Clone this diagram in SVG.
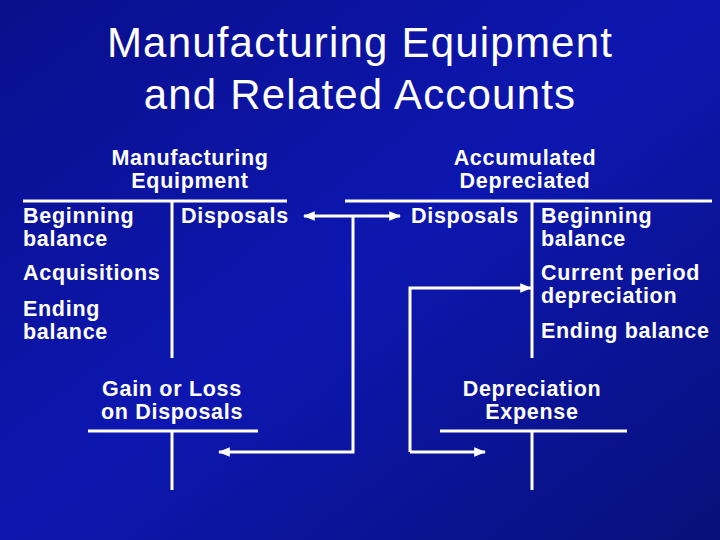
<svg xmlns="http://www.w3.org/2000/svg" width="720" height="540" viewBox="0 0 720 540">
<defs>
<linearGradient id="bg" x1="0" y1="0" x2="1" y2="1">
<stop offset="0" stop-color="#0a0f8c"/><stop offset="0.5" stop-color="#0d17b0"/><stop offset="1" stop-color="#08107a"/>
</linearGradient>
<marker id="ah" viewBox="0 0 10 10" refX="9" refY="5" markerWidth="4" markerHeight="4" orient="auto-start-reverse" markerUnits="strokeWidth"><path d="M0,1 L10,5 L0,9 Z" fill="#fff"/></marker>
<style>
.t{font-family:"Liberation Sans",Arial,sans-serif;font-weight:bold;font-size:21.5px;letter-spacing:0.7px;fill:#fff}
.h{font-family:"Liberation Sans",Arial,sans-serif;font-size:42px;letter-spacing:1.2px;fill:#fff;text-anchor:middle}
.l{stroke:#fff;stroke-width:3;fill:none}
</style>
</defs>
<rect width="720" height="540" fill="url(#bg)"/>
<text class="h" x="360" y="57">Manufacturing Equipment</text>
<text class="h" x="360" y="109">and Related Accounts</text>
<g id="mfg-equipment">
<text class="t" x="190" y="165" text-anchor="middle">Manufacturing</text>
<text class="t" x="190" y="188" text-anchor="middle">Equipment</text>
<path class="l" d="M23,201 H287 M172,201 V358"/>
<text class="t" x="23" y="223">Beginning</text>
<text class="t" x="23" y="246">balance</text>
<text class="t" x="23" y="280">Acquisitions</text>
<text class="t" x="23" y="316">Ending</text>
<text class="t" x="23" y="339">balance</text>
<text class="t" x="181" y="223">Disposals</text>
</g>
<g id="accum-dep">
<text class="t" x="525" y="165" text-anchor="middle">Accumulated</text>
<text class="t" x="525" y="188" text-anchor="middle">Depreciated</text>
<path class="l" d="M345,201 H712 M532,201 V358"/>
<text class="t" x="411" y="223">Disposals</text>
<text class="t" x="541" y="223">Beginning</text>
<text class="t" x="541" y="246">balance</text>
<text class="t" x="541" y="280">Current period</text>
<text class="t" x="541" y="303">depreciation</text>
<text class="t" x="541" y="338">Ending balance</text>
</g>
<g id="gain-loss">
<text class="t" x="172" y="396" text-anchor="middle">Gain or Loss</text>
<text class="t" x="172" y="419" text-anchor="middle">on Disposals</text>
<path class="l" d="M88,431 H258 M172,431 V490"/>
</g>
<g id="dep-expense">
<text class="t" x="532" y="396" text-anchor="middle">Depreciation</text>
<text class="t" x="532" y="419" text-anchor="middle">Expense</text>
<path class="l" d="M440,431 H627 M532,431 V490"/>
</g>
<g id="connectors">
<path class="l" d="M304,216 H400" marker-start="url(#ah)" marker-end="url(#ah)"/>
<path class="l" d="M353,216 V452 H219" marker-end="url(#ah)"/>
<path class="l" d="M410,452 V288 H531" marker-end="url(#ah)"/>
<path class="l" d="M410,452 H485" marker-end="url(#ah)"/>
</g>
</svg>
